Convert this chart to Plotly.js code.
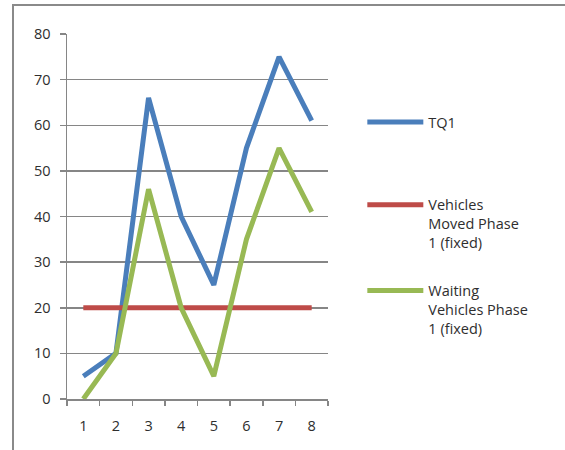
<!DOCTYPE html>
<html>
<head>
<meta charset="utf-8">
<script src="https://cdn.plot.ly/plotly-3.0.1.min.js"></script>
<style>
  html, body { margin: 0; padding: 0; background: #fff; }
  #wrap { position: relative; width: 565px; height: 450px; overflow: hidden; }
  #chart { position: absolute; left: 0; top: 0; width: 565px; height: 450px; }
  #frame { position: absolute; left: 12px; top: 4px; width: 560px; height: 445px;
           border: 2px solid #8a8a8a; border-bottom-color: #b0b0b0; pointer-events: none; }
</style>
</head>
<body>
<div id="wrap">
  <div id="chart"></div>
  <div id="frame"></div>
</div>
<script>
const categories = ['1', '2', '3', '4', '5', '6', '7', '8'];
const tq1 = [5, 10, 66, 40, 25, 55, 75, 61];
const vehiclesMoved = [20, 20, 20, 20, 20, 20, 20, 20];
const waitingVehicles = [0, 10, 46, 20, 5, 35, 55, 41];
const seriesNames = ['TQ1', 'Vehicles<br>Moved Phase<br>1 (fixed)', 'Waiting<br>Vehicles Phase<br>1 (fixed)'];
const yTicks = [0, 10, 20, 30, 40, 50, 60, 70, 80];

const colors = ['#4A7EBB', '#BE4B48', '#98B954'];
const textColor = '#2e2e2e';
const fontFamily = 'Open Sans, Noto Sans, sans-serif';

const traces = [
  { x: categories, y: tq1, name: seriesNames[0], legend: 'legend' },
  { x: categories, y: vehiclesMoved, name: seriesNames[1], legend: 'legend2' },
  { x: categories, y: waitingVehicles, name: seriesNames[2], legend: 'legend3' }
].map((t, i) => Object.assign(t, {
  type: 'scatter', mode: 'lines',
  line: { color: colors[i], width: 5 },
  hoverinfo: 'skip'
}));

const legendBase = {
  xanchor: 'left', x: 1.1315,
  bgcolor: 'rgba(0,0,0,0)', borderwidth: 0,
  font: { family: fontFamily, size: 14.5, color: textColor },
  itemwidth: 56, valign: 'top', itemclick: false, itemdoubleclick: false
};

const layout = {
  width: 565, height: 450,
  margin: { l: 67, r: 237, t: 34, b: 51 },
  paper_bgcolor: '#ffffff', plot_bgcolor: '#ffffff',
  font: { family: fontFamily, size: 14, color: textColor },
  showlegend: true,
  legend: Object.assign({}, legendBase, { y: 0.759, yanchor: 'middle' }),
  legend2: Object.assign({}, legendBase, { y: 0.576, yanchor: 'top' }),
  legend3: Object.assign({}, legendBase, { y: 0.341, yanchor: 'top' }),
  xaxis: {
    type: 'category', categoryorder: 'array', categoryarray: categories,
    range: [-0.5, categories.length - 0.5],
    tickson: 'boundaries', ticks: 'outside', ticklen: 5, tickwidth: 1.5, tickcolor: '#868686',
    showline: true, linecolor: '#868686', linewidth: 1.5,
    showgrid: false, zeroline: false, ticklabelstandoff: 13,
    tickfont: { family: fontFamily, size: 14.5, color: textColor },
    fixedrange: true
  },
  yaxis: {
    range: [0, 80], tickvals: yTicks, ticktext: yTicks.map(String),
    ticks: 'outside', ticklen: 6, tickwidth: 1.5, tickcolor: '#868686',
    showline: true, linecolor: '#868686', linewidth: 1.5,
    showgrid: true, gridcolor: '#868686', gridwidth: 1.5,
    zeroline: false, ticklabelstandoff: 6,
    tickfont: { family: fontFamily, size: 14.5, color: textColor },
    fixedrange: true
  }
};

Plotly.newPlot('chart', traces, layout, { displayModeBar: false, staticPlot: true });
</script>
</body>
</html>
